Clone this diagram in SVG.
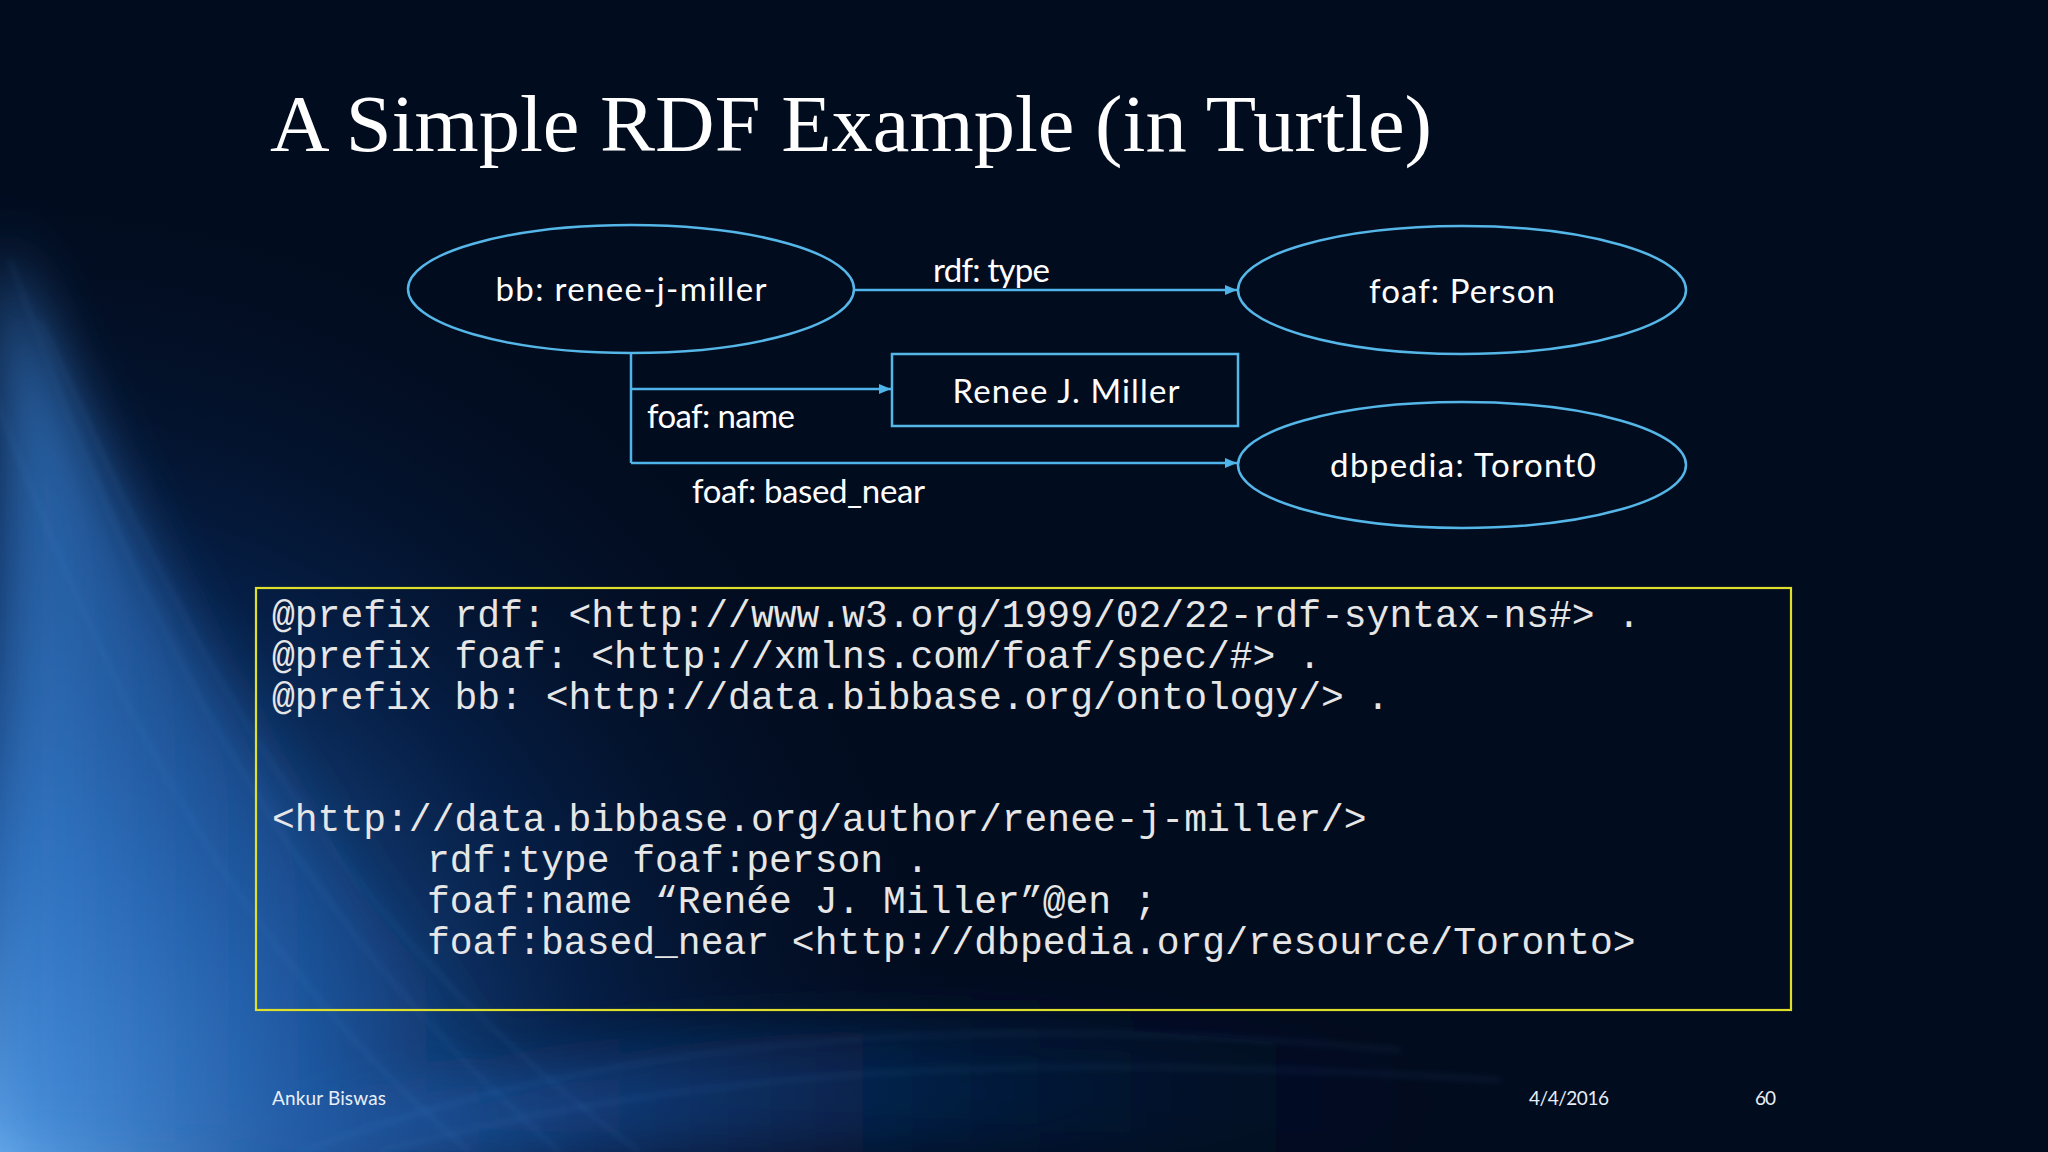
<svg xmlns="http://www.w3.org/2000/svg" width="2048" height="1152" viewBox="0 0 2048 1152">
  <defs>
    <radialGradient id="glow" cx="0" cy="1152" r="1000" gradientUnits="userSpaceOnUse">
      <stop offset="0" stop-color="#6fb4f5" stop-opacity="0.95"/>
      <stop offset="0.3" stop-color="#2f78d0" stop-opacity="0.7"/>
      <stop offset="0.6" stop-color="#0b3a80" stop-opacity="0.4"/>
      <stop offset="1" stop-color="#020c1f" stop-opacity="0"/>
    </radialGradient>
    <linearGradient id="band" x1="0" y1="0" x2="1" y2="0">
      <stop offset="0" stop-color="#3c86d8" stop-opacity="0.75"/>
      <stop offset="0.6" stop-color="#1a56a8" stop-opacity="0.35"/>
      <stop offset="1" stop-color="#0a2a60" stop-opacity="0"/>
    </linearGradient>
    <linearGradient id="sweep" x1="0" y1="0" x2="1" y2="0">
      <stop offset="0" stop-color="#2d6fc4" stop-opacity="0.7"/>
      <stop offset="0.5" stop-color="#0f3f86" stop-opacity="0.45"/>
      <stop offset="1" stop-color="#041634" stop-opacity="0"/>
    </linearGradient>
    <filter id="blur" x="-20%" y="-20%" width="140%" height="140%">
      <feGaussianBlur stdDeviation="30"/>
    </filter>
    <filter id="soft" x="-5%" y="-5%" width="110%" height="110%">
      <feGaussianBlur stdDeviation="3"/>
    </filter>
    <marker id="arrow" viewBox="0 0 12 10" refX="12" refY="5" markerWidth="12" markerHeight="10" markerUnits="userSpaceOnUse" orient="auto">
      <path d="M0,0 L12,5 L0,10 Z" fill="#4fb4ea"/>
    </marker>
    <style>
      .node { fill: none; stroke: #55b6e8; stroke-width: 2.5; }
      .edge { fill: none; stroke: #4fb4ea; stroke-width: 2.5; }
      .lbl { font-family: Lato, "Open Sans", "Liberation Sans", sans-serif; font-size: 33px; fill: #ffffff; }
      .mid { text-anchor: middle; }
      .code { font-family: "Liberation Mono", "Courier New", monospace; font-size: 38px; fill: #e6e6e6; white-space: pre; }
      .foot { font-family: Lato, "Open Sans", "Liberation Sans", sans-serif; font-size: 19px; fill: #e8eef8; }
    </style>
  </defs>

  <!-- background -->
  <rect x="0" y="0" width="2048" height="1152" fill="#020c1f"/>
  <rect x="0" y="0" width="2048" height="1152" fill="url(#glow)"/>
  <g filter="url(#blur)">
    <path d="M0,240 C140,540 260,840 600,1152 L0,1152 Z" fill="url(#band)"/>
    <path d="M250,1152 C600,1020 950,1000 1450,1060 L1450,1152 Z" fill="url(#sweep)"/>
  </g>
  <g fill="none" stroke="#5aa2ee" stroke-opacity="0.12" stroke-width="3" filter="url(#soft)">
    <path d="M10,260 C120,560 250,880 560,1152"/>
    <path d="M40,320 C170,600 300,900 640,1152"/>
    <path d="M-20,360 C90,640 200,920 470,1152"/>
    <path d="M300,1152 C600,1040 950,1010 1400,1050"/>
    <path d="M380,1152 C680,1070 1000,1050 1500,1080"/>
  </g>

  <!-- title -->
  <text x="270" y="151" font-family="'Liberation Serif', 'DejaVu Serif', serif" font-size="80" fill="#ffffff" textLength="1162" lengthAdjust="spacingAndGlyphs">A Simple RDF Example (in Turtle)</text>

  <!-- connectors -->
  <g id="connectors">
    <line class="edge" x1="854" y1="290" x2="1237" y2="290" marker-end="url(#arrow)"/>
    <polyline class="edge" points="631,353 631,463"/>
    <line class="edge" x1="631" y1="389" x2="891" y2="389" marker-end="url(#arrow)"/>
    <line class="edge" x1="631" y1="463" x2="1237" y2="463" marker-end="url(#arrow)"/>
    <text class="lbl" x="933" y="282" textLength="117">rdf: type</text>
    <text class="lbl" x="647" y="428" textLength="148">foaf: name</text>
    <text class="lbl" x="692" y="503" textLength="233">foaf: based_near</text>
  </g>

  <!-- nodes -->
  <g id="node-renee">
    <ellipse class="node" cx="631" cy="289" rx="223" ry="64"/>
    <text class="lbl mid" x="631" y="301" font-size="35" textLength="271">bb: renee-j-miller</text>
  </g>
  <g id="node-person">
    <ellipse class="node" cx="1462" cy="290" rx="224" ry="64"/>
    <text class="lbl mid" x="1462" y="303" font-size="35" textLength="186">foaf: Person</text>
  </g>
  <g id="node-name">
    <rect class="node" x="892" y="354" width="346" height="72"/>
    <text class="lbl mid" x="1066" y="403" font-size="35" textLength="227">Renee J. Miller</text>
  </g>
  <g id="node-toronto">
    <ellipse class="node" cx="1462" cy="465" rx="224" ry="63"/>
    <text class="lbl mid" x="1463" y="477" font-size="35" textLength="266">dbpedia: Toront0</text>
  </g>

  <!-- turtle code -->
  <g id="code-box">
    <rect x="256" y="588" width="1535" height="422" fill="none" stroke="#dede2c" stroke-width="2.2"/>
    <text class="code" x="272" y="627">@prefix rdf: &lt;http://www.w3.org/1999/02/22-rdf-syntax-ns#&gt; .</text>
    <text class="code" x="272" y="668">@prefix foaf: &lt;http://xmlns.com/foaf/spec/#&gt; .</text>
    <text class="code" x="272" y="709">@prefix bb: &lt;http://data.bibbase.org/ontology/&gt; .</text>
    <text class="code" x="272" y="831">&lt;http://data.bibbase.org/author/renee-j-miller/&gt;</text>
    <text class="code" x="427" y="872">rdf:type foaf:person .</text>
    <text class="code" x="427" y="913">foaf:name “Renée J. Miller”@en ;</text>
    <text class="code" x="427" y="954">foaf:based_near &lt;http://dbpedia.org/resource/Toronto&gt;</text>
  </g>

  <!-- footer -->
  <text class="foot" x="272" y="1105" textLength="114">Ankur Biswas</text>
  <text class="foot" x="1529" y="1105" textLength="80">4/4/2016</text>
  <text class="foot" x="1755" y="1105" textLength="21">60</text>
</svg>
